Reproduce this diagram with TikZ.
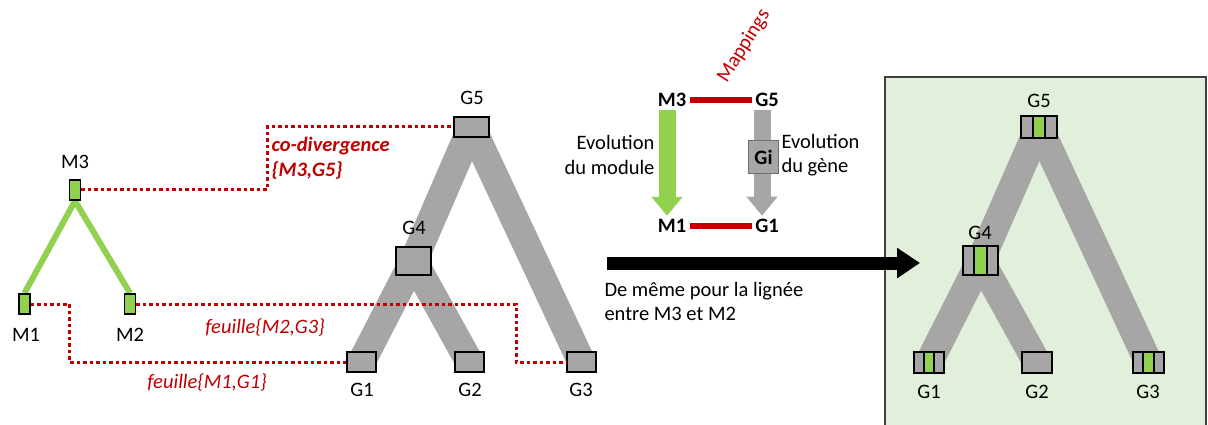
\documentclass[tikz,border=0pt]{standalone}
\usepackage{fontspec}
\setmainfont{Carlito}
\usetikzlibrary{arrows.meta}
\definecolor{modgreen}{HTML}{92D050}
\definecolor{genegray}{HTML}{A6A6A6}
\definecolor{mapred}{HTML}{C00000}
\definecolor{panelgreen}{HTML}{E2EFDA}
\definecolor{panelline}{HTML}{404040}
\definecolor{giline}{HTML}{6F6F6F}
\newcommand{\figfont}{\fontsize{20.5}{24.5}\selectfont}
\pgfdeclarelayer{back}
\pgfdeclarelayer{mid}
\pgfsetlayers{back,mid,main}
\tikzset{
  mbox/.style={draw,line width=1.8pt,fill=modgreen,minimum width=11pt,minimum height=20pt,inner sep=0pt},
  gbox/.style={draw,line width=1.8pt,fill=genegray,inner sep=0pt},
  gseg/.style={draw,line width=1.8pt,fill=modgreen,inner sep=0pt},
  mbranch/.style={modgreen,line width=6pt},
  gbranch/.style={genegray,line width=28pt},
  maplink/.style={mapred,line width=3pt,dash pattern=on 3.5pt off 3pt},
  mapbar/.style={mapred,line width=6pt},
  maptext/.style={mapred,font=\figfont\itshape},
  boldlbl/.style={font=\figfont\bfseries}
}
\begin{document}
\begin{tikzpicture}[x=1pt,y=-1pt,every node/.style={font=\figfont}]
  \useasboundingbox (0,0) rectangle (1208,425);
  % result panel
  \begin{pgfonlayer}{back}
    \fill[panelgreen] (885,77) rectangle (1206,440);
    \draw[panelline,line width=1.5pt] (885,440) -- (885,77) -- (1206,77) -- (1206,440);
  \end{pgfonlayer}

  % module tree
  \node[mbox] (m3) at (75,190) {};
  \node[mbox] (m1) at (24.5,304) {};
  \node[mbox] (m2) at (130,304) {};
  \node (m3l) at (75,162) {M3};
  \node (m1l) at (26,335) {M1};
  \node (m2l) at (130,335) {M2};
  \begin{pgfonlayer}{mid}
    \draw[mbranch] (m3.south) -- (m1.north);
    \draw[mbranch] (m3.south) -- (m2.north);
  \end{pgfonlayer}

  % gene tree
  \node[gbox,minimum width=35pt,minimum height=20pt] (g5) at (471.5,127) {};
  \node[gbox,minimum width=35pt,minimum height=28pt] (g4) at (413.5,261) {};
  \node[gbox,minimum width=29pt,minimum height=20pt] (g1) at (361.5,362) {};
  \node[gbox,minimum width=29pt,minimum height=20pt] (g2) at (469.5,362) {};
  \node[gbox,minimum width=29pt,minimum height=20pt] (g3) at (581.5,362) {};
  \node (g5l) at (472,98) {G5};
  \node (g4l) at (414,228) {G4};
  \node (g1l) at (362,390) {G1};
  \node (g2l) at (470,390) {G2};
  \node (g3l) at (581,390) {G3};
  \begin{pgfonlayer}{mid}
    \draw[gbranch] (g5.center) -- (g4.center);
    \draw[gbranch] (g5.center) -- (g3.center);
    \draw[gbranch] (g4.center) -- (g1.center);
    \draw[gbranch] (g4.center) -- (g2.center);
  \end{pgfonlayer}

  % mappings between the trees
  \draw[maplink] (m3.east) -- ++(186,0) |- (g5.west);
  \draw[maplink] (m1.east) -- ++(39,0) |- (g1.west);
  \draw[maplink] (m2.east) -- ++(380,0) |- (g3.west);
  \node[maptext,font=\figfont\bfseries\itshape,anchor=west,align=left] (codiv) at (268,158.5) {co-divergence\\\{M3,G5\}};
  \node[maptext] (f2) at (265,327) {feuille\{M2,G3\}};
  \node[maptext] (f1) at (207,382) {feuille\{M1,G1\}};

  % summary in the middle
  \node[boldlbl] (a3) at (672,100) {M3};
  \node[boldlbl] (b5) at (767,100) {G5};
  \node[boldlbl] (a1) at (672,226) {M1};
  \node[boldlbl] (b1) at (767,226) {G1};
  \draw[mapbar] (a3.east) -- (b5.west);
  \draw[mapbar] (a1.east) -- (b1.west);
  \node[mapred,rotate=58] (mapl) at (744,46) {Mappings};
  \draw[modgreen,line width=17pt,-{Triangle[width=30pt,length=19pt]}]
    ([xshift=-5pt]a3.south) -- ([xshift=-5pt]a1.north);
  \draw[genegray,line width=17pt,-{Triangle[width=30pt,length=19pt]}]
    ([xshift=-5pt]b5.south) -- ([xshift=-5pt]b1.north);
  \node[draw=giline,line width=1.5pt,fill=genegray,font=\figfont\bfseries,
    minimum width=30pt,minimum height=33pt,inner sep=0pt] (gi) at (763.5,157) {Gi};
  \node[anchor=east,align=right] (evm) at (658,155) {Evolution\\du module};
  \node[anchor=west,align=left] (evg) at (778,155) {Evolution\\du gène};

  % big arrow
  \coordinate (arrs) at (607,263);
  \coordinate (arre) at (920,263);
  \draw[line width=13pt,-{Triangle[width=29pt,length=23pt]}] (arrs) -- (arre);
  \node[anchor=west,align=left] (same) at (601,301.5) {De même pour la lignée\\entre M3 et M2};

  % reconciled gene tree
  \node[gbox,minimum width=36pt,minimum height=21.5pt] (r5) at (1039,127) {};
  \node[gseg,minimum width=11.5pt,minimum height=21.5pt] (s5) at (r5) {};
  \node[gbox,minimum width=35pt,minimum height=29.5pt] (r4) at (980.5,260.5) {};
  \node[gseg,minimum width=13.5pt,minimum height=29.5pt] (s4) at (r4) {};
  \node[gbox,minimum width=30pt,minimum height=21.5pt] (r1) at (929,362.5) {};
  \node[gseg,minimum width=10.5pt,minimum height=21.5pt] (s1) at (r1) {};
  \node[gbox,minimum width=30pt,minimum height=21.5pt] (r2) at (1037,362.5) {};
  \node[gbox,minimum width=31pt,minimum height=21.5pt] (r3) at (1148.5,362.5) {};
  \node[gseg,minimum width=10.5pt,minimum height=21.5pt] (s3) at (r3) {};
  \node (r5l) at (1039,101) {G5};
  \node (r4l) at (980,233) {G4};
  \node (r1l) at (929,392) {G1};
  \node (r2l) at (1037,392) {G2};
  \node (r3l) at (1148,392) {G3};
  \begin{pgfonlayer}{mid}
    \draw[gbranch] (r5.center) -- (r4.center);
    \draw[gbranch] (r5.center) -- (r3.center);
    \draw[gbranch] (r4.center) -- (r1.center);
    \draw[gbranch] (r4.center) -- (r2.center);
  \end{pgfonlayer}
\end{tikzpicture}
\end{document}
